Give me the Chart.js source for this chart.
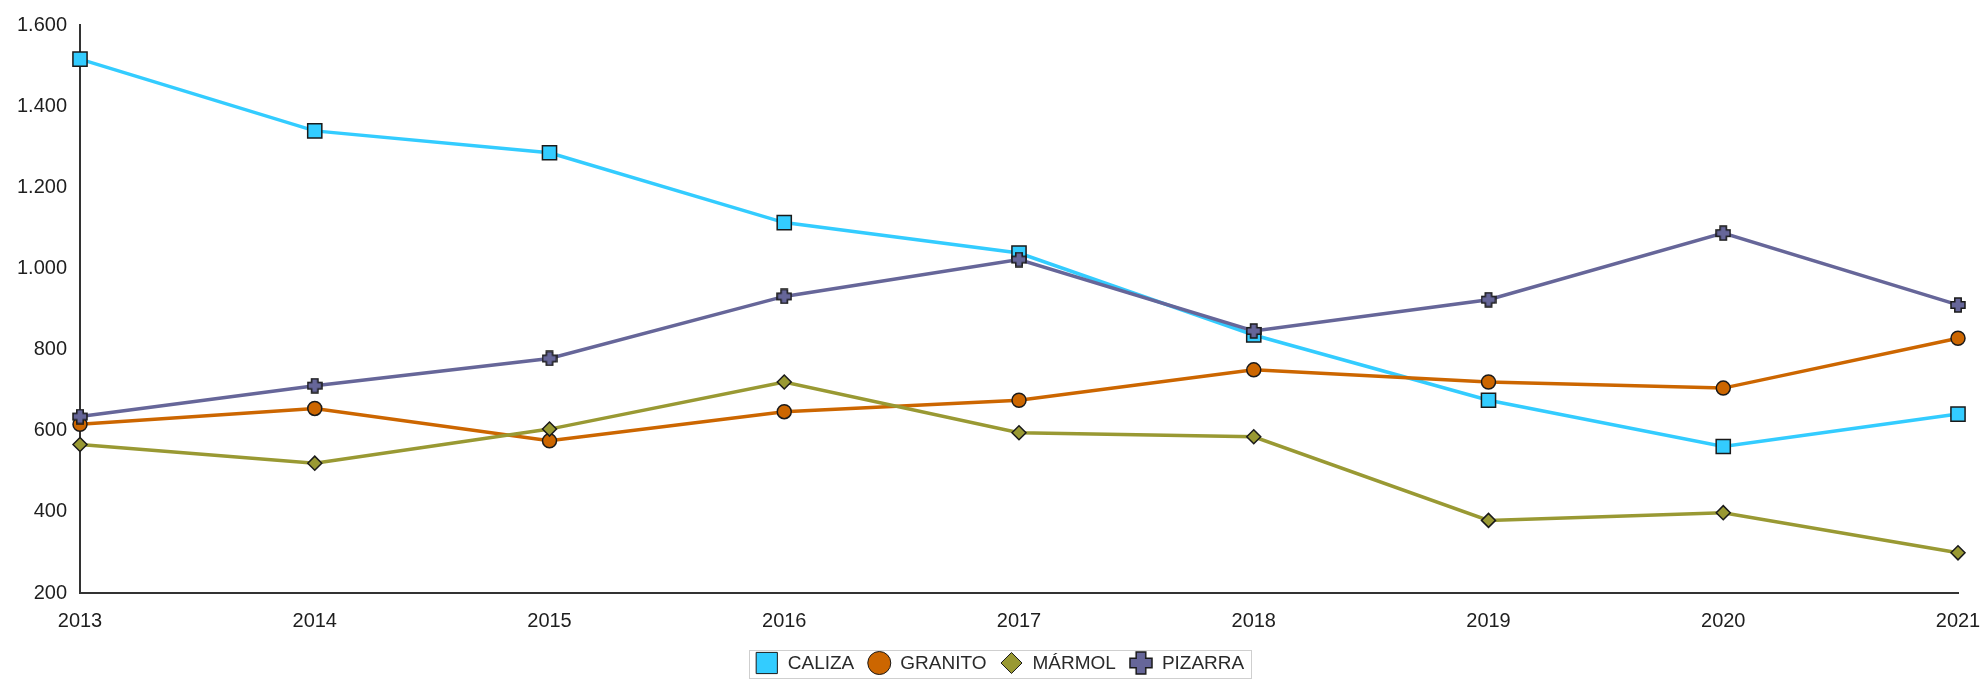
<!DOCTYPE html>
<html lang="es">
<head>
<meta charset="utf-8">
<title>Producción por tipo de piedra</title>
<script src="https://cdn.jsdelivr.net/npm/chart.js@4.4.1/dist/chart.umd.min.js"></script>
<style>
  html, body { margin: 0; padding: 0; background: #ffffff; }
  #wrap { position: relative; width: 1984px; height: 680px; }
</style>
</head>
<body>
<div id="wrap"><canvas id="chart"></canvas></div>
<script>
// Years on the horizontal axis
const years = ['2013', '2014', '2015', '2016', '2017', '2018', '2019', '2020', '2021'];

// One series per stone type
const caliza  = [1516, 1339, 1285, 1113, 1038, 836, 675, 561, 641];
const granito = [616, 655, 575, 647, 675, 750, 720, 705, 828];
const marmol  = [566, 520, 604, 720, 595, 585, 379, 398, 299];
const pizarra = [635, 711, 778, 931, 1022, 846, 923, 1087, 910];

// Vertical axis ticks
const yTicks = [200, 400, 600, 800, 1000, 1200, 1400, 1600];

const FONT = "'Liberation Sans', Arial, sans-serif";
const EDGE = '#1a1a1a';

// Filled plus-shaped marker with a dark outline
function plusMarker(size, color) {
  const c = document.createElement('canvas');
  c.width = size; c.height = size;
  const g = c.getContext('2d');
  const m = size / 2, h = size / 2 - 1, t = size * 0.2;
  g.beginPath();
  g.moveTo(m - t, m - h); g.lineTo(m + t, m - h); g.lineTo(m + t, m - t);
  g.lineTo(m + h, m - t); g.lineTo(m + h, m + t); g.lineTo(m + t, m + t);
  g.lineTo(m + t, m + h); g.lineTo(m - t, m + h); g.lineTo(m - t, m + t);
  g.lineTo(m - h, m + t); g.lineTo(m - h, m - t); g.lineTo(m - t, m - t);
  g.closePath();
  g.fillStyle = color; g.fill();
  g.lineWidth = 1.5; g.strokeStyle = EDGE; g.stroke();
  return c;
}

const PIZ_COLOR = '#666699';
const plusSmall = plusMarker(16, PIZ_COLOR);
const plusLarge = plusMarker(24, PIZ_COLOR);

function spanish(v) {
  return String(v).replace(/\B(?=(\d{3})+(?!\d))/g, '.');
}

// Boxed legend centred under the plot, marker followed by its label
const boxedLegend = {
  id: 'boxedLegend',
  afterDraw(chart) {
    const ctx = chart.ctx;
    const items = chart.data.datasets;
    ctx.save();
    ctx.font = '19px ' + FONT;
    const markerW = 22, gapAfterMarker = 10, gapAfterText = 14;
    let total = 0;
    const widths = items.map(ds => ctx.measureText(ds.label).width);
    widths.forEach(w => { total += markerW + gapAfterMarker + w + gapAfterText; });
    total -= gapAfterText;
    const padX = 7;
    const cx = chart.width / 2 + 8;
    let x = cx - total / 2;
    const cy = 663;
    // frame
    ctx.strokeStyle = '#cfcfcf';
    ctx.lineWidth = 1;
    ctx.strokeRect(Math.round(x - padX) + 0.5, 650.5, Math.round(total + 2 * padX), 28);
    items.forEach((ds, i) => {
      const mx = x + markerW / 2;
      const ls = ds.legendMarker;
      ctx.fillStyle = ds.pointBackgroundColor;
      ctx.strokeStyle = EDGE;
      Chart.helpers.drawPoint(ctx, {
        pointStyle: ls.style, radius: ls.radius, borderWidth: 1.5, rotation: 0
      }, mx, cy);
      ctx.fillStyle = '#2a2a2a';
      ctx.textBaseline = 'middle';
      ctx.textAlign = 'left';
      ctx.fillText(ds.label, x + markerW + gapAfterMarker, cy + 1);
      x += markerW + gapAfterMarker + widths[i] + gapAfterText;
    });
    ctx.restore();
  }
};

function series(label, data, color, style, radius, legendMarker, order) {
  return {
    label, data, order,
    borderColor: color,
    borderWidth: 3.5,
    tension: 0,
    fill: false,
    clip: false,
    pointStyle: style,
    pointRadius: radius,
    pointHoverRadius: radius,
    pointBackgroundColor: color,
    pointBorderColor: EDGE,
    pointBorderWidth: 1.5,
    legendMarker
  };
}

new Chart(document.getElementById('chart'), {
  type: 'line',
  data: {
    labels: years,
    datasets: [
      series('CALIZA',  caliza,  '#33CCFF', 'rect',    10,  { style: 'rect',    radius: 15 },   4),
      series('GRANITO', granito, '#CC6600', 'circle',  7,   { style: 'circle',  radius: 11.5 }, 3),
      series('MÁRMOL',  marmol,  '#999933', 'rectRot', 7,   { style: 'rectRot', radius: 10.5 }, 2),
      series('PIZARRA', pizarra, PIZ_COLOR, plusSmall, 8,   { style: plusLarge, radius: 12 },   1)
    ]
  },
  options: {
    responsive: true,
    maintainAspectRatio: false,
    animation: false,
    events: [],
    layout: { padding: { top: 25, right: 26, left: 0, bottom: 0 } },
    plugins: {
      legend: { display: false },
      tooltip: { enabled: false }
    },
    scales: {
      x: {
        offset: false,
        grid: { display: false, drawTicks: false },
        border: { display: true, color: '#333333', width: 2 },
        ticks: {
          color: '#1e1e1e',
          font: { family: FONT, size: 20 },
          padding: 16,
          maxRotation: 0,
          autoSkip: false
        },
        afterFit(scale) {
          scale.height = 87;
          scale.paddingLeft = 0;
          scale.paddingRight = 0;
        }
      },
      y: {
        min: 200,
        max: 1600,
        grid: { display: false, drawTicks: false },
        border: { display: true, color: '#333333', width: 2 },
        afterBuildTicks(scale) { scale.ticks = yTicks.map(v => ({ value: v })); },
        ticks: {
          color: '#1e1e1e',
          font: { family: FONT, size: 20 },
          padding: 13,
          callback: v => spanish(v)
        },
        afterFit(scale) {
          scale.width = 80;
          scale.paddingTop = 0;
          scale.paddingBottom = 0;
        }
      }
    }
  },
  plugins: [boxedLegend]
});
</script>
</body>
</html>
